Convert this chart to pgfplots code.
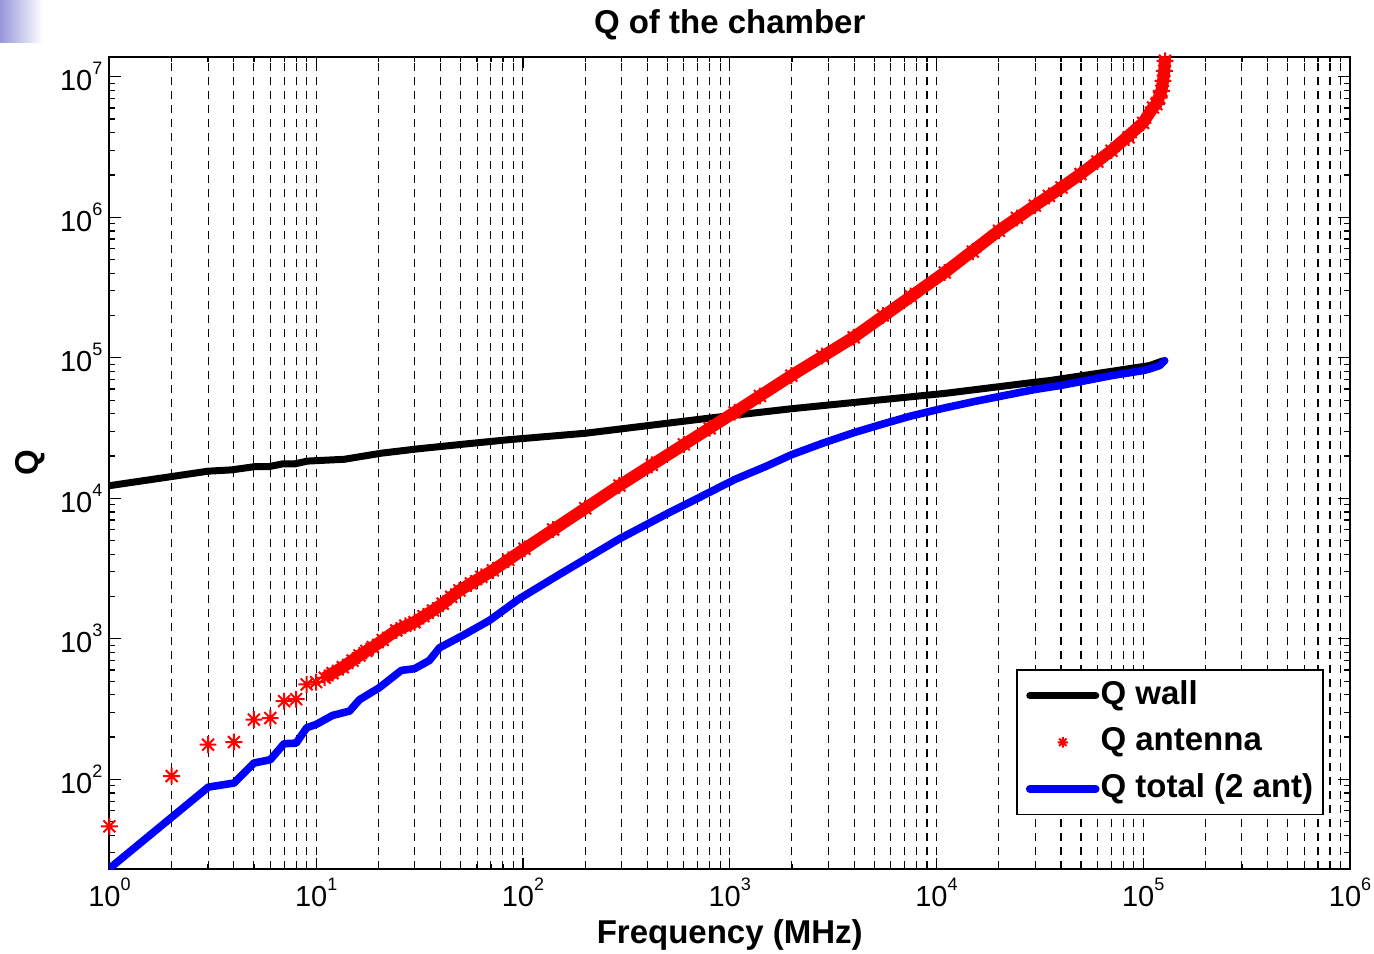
\documentclass[border=0pt]{standalone}
\usepackage{pgfplots}
\pgfplotsset{compat=1.18}
\usepackage{fontspec}
\setmainfont{Liberation Sans}
\pgfdeclareplotmark{mstar}{%
  \pgfpathmoveto{\pgfqpoint{-\pgfplotmarksize}{0pt}}%
  \pgfpathlineto{\pgfqpoint{\pgfplotmarksize}{0pt}}%
  \pgfpathmoveto{\pgfqpoint{0pt}{-\pgfplotmarksize}}%
  \pgfpathlineto{\pgfqpoint{0pt}{\pgfplotmarksize}}%
  \pgfpathmoveto{\pgfqpoint{-0.707\pgfplotmarksize}{-0.707\pgfplotmarksize}}%
  \pgfpathlineto{\pgfqpoint{0.707\pgfplotmarksize}{0.707\pgfplotmarksize}}%
  \pgfpathmoveto{\pgfqpoint{-0.707\pgfplotmarksize}{0.707\pgfplotmarksize}}%
  \pgfpathlineto{\pgfqpoint{0.707\pgfplotmarksize}{-0.707\pgfplotmarksize}}%
  \pgfusepathqstroke}
\newcommand{\tl}[1]{10\raisebox{8pt}{\fontsize{9}{10}\selectfont #1}}
\definecolor{fadeblue}{RGB}{150,150,220}
\begin{document}
\begin{tikzpicture}
\path[use as bounding box] (-54.7pt,-41.85pt) rectangle (632.3pt,434.65pt);
\shade[left color=fadeblue, right color=white] (-54.7pt,413.15pt) rectangle (-33.2pt,434.65pt);
\begin{axis}[
  xmode=log, ymode=log,
  scale only axis,
  width=620.3pt, height=406.3pt,
  xmin=1, xmax=1e6, ymin=22.9, ymax=1.39e7,
  xtick={1,10,100,1000,10000,100000,1000000},
  xticklabels={\tl{0},\tl{1},\tl{2},\tl{3},\tl{4},\tl{5},\tl{6}},
  minor xtick={2,3,4,5,6,7,8,9,20,30,40,50,60,70,80,90,200,300,400,500,600,700,800,900,2000,3000,4000,5000,6000,7000,8000,9000,20000,30000,40000,50000,60000,70000,80000,90000,200000,300000,400000,500000,600000,700000,800000,900000},
  ytick={100,1000,10000,100000,1000000,10000000},
  yticklabels={\tl{2},\tl{3},\tl{4},\tl{5},\tl{6},\tl{7}},
  minor ytick={30,40,50,60,70,80,90,200,300,400,500,600,700,800,900,2000,3000,4000,5000,6000,7000,8000,9000,20000,30000,40000,50000,60000,70000,80000,90000,200000,300000,400000,500000,600000,700000,800000,900000,2000000,3000000,4000000,5000000,6000000,7000000,8000000,9000000},
  xmajorgrids, xminorgrids,
  major grid style={black, line width=0.55pt, dash pattern=on 4pt off 3pt},
  minor grid style={black, line width=0.55pt, dash pattern=on 4pt off 3pt},
  major tick length=5.8pt, minor tick length=2.9pt,
  tick style={black, line width=0.6pt},
  axis line style={line width=1pt},
  ticklabel style={font=\fontsize{14.5}{16}\selectfont},
  xticklabel style={yshift=-1pt},
  every axis title shift=0pt,
  title={Q of the chamber},
  title style={font=\bfseries\fontsize{16.5}{20}\selectfont, at={(axis description cs:0.5,1.0283)}, anchor=base},
  xlabel={Frequency (MHz)},
  xlabel style={font=\bfseries\fontsize{16.5}{20}\selectfont, at={(axis description cs:0.5,-0.0919)}, anchor=base},
  ylabel={Q},
  ylabel style={font=\bfseries\fontsize{16.5}{20}\selectfont, at={(axis description cs:-0.0639,0.5)}, anchor=center},
  legend style={at={(axis description cs:0.979,0.0666)}, anchor=south east,
    font=\bfseries\fontsize{16.5}{20}\selectfont, draw=black, line width=0.75pt,
    inner xsep=4.5pt, inner ysep=4.5pt, row sep=6.8pt,
    nodes={inner sep=0.5pt, text height=12pt, text depth=3.5pt}},
  legend cell align=left,
  legend image code/.code={\draw[mark repeat=2,mark phase=2,#1] plot coordinates {(0pt,0pt) (16.5pt,0pt) (33pt,0pt)};},
]
\addplot[black, line width=3.5pt, line cap=round, line join=round] table[x=f,y=Q] {
f Q
1 12300
2 14290
3 15600
3.92 15950
5.03 16800
5.9 16800
6.9 17600
7.9 17600
9.06 18400
13.7 18970
20.6 20940
31 22490
53.5 24420
84 26080
200 29040
812 37350
1986 43400
10960 55800
29900 67000
35300 68900
74200 81100
107500 88100
124000 95000
};
\addlegendentry{Q wall}
\addplot[red, line width=6pt, line join=round, forget plot] table[x=f,y=Q] {
f Q
11 528
13.45 629
16.2 762
18.8 873
24.4 1148
29.9 1315
36.7 1592
41 1778
49.3 2210
71.5 3070
101.8 4375
293 12330
1056 40950
1986 74700
3975 140000
10960 405000
20050 803000
29900 1210000
40200 1630000
49700 2030000
70200 2980000
99800 4700000
111500 6050000
115800 6390000
122400 7950000
124700 9370000
126500 11000000
127500 14000000
};
\addplot[red, only marks, mark=mstar, mark size=4.2pt, mark options={line width=1pt, solid},
  legend image post style={mark size=2.6pt, line width=0.8pt}] table[x=f,y=Q] {
f Q
1 46.3
2 105.6
3 176.6
4 184.3
5 266
6 273
7 360
8 372
9 474
10 492
11 528
12 570
13.45 629
15 700
16.2 762
17.5 820
18.8 873
21 980
24.4 1148
27 1240
29.9 1315
33 1450
36.7 1592
41 1778
45 1990
49.3 2210
56 2480
63 2760
71.5 3070
85 3650
101.8 4375
140 6000
200 8500
293 12330
420 17300
600 24200
800 31500
1056 40950
1400 53500
1986 74700
2800 103000
3975 140000
5500 200000
7500 275000
10960 405000
15000 570000
20050 803000
24500 990000
29900 1210000
35000 1420000
40200 1630000
49700 2030000
60000 2490000
70200 2980000
85000 3700000
99800 4700000
111500 6050000
115800 6390000
119500 7100000
122400 7950000
124700 9370000
126500 11000000
127500 13000000
};
\addlegendentry{Q antenna}
\addplot[blue, line width=3.8pt, line cap=round, line join=round] table[x=f,y=Q] {
f Q
1 23.2
3.01 88.1
4 94.1
5 130.6
6 138
7 179.5
8 181
9 233
10 246
12 285
14.5 306
16.2 369
20.2 449
25.8 596
29.9 613
35.3 702
39.5 864
51.2 1057
68.9 1352
96 1928
150 2870
293 5150
500 7800
700 10000
1056 13600
1500 16900
1986 20400
2800 24600
3975 29300
5500 33800
7500 38500
10960 44000
15000 48600
20050 53000
29900 59500
40200 63700
70200 74700
99800 81100
107500 83400
120000 88100
127000 95500
};
\addlegendentry{Q total (2 ant)}
\end{axis}
\end{tikzpicture}
\end{document}
